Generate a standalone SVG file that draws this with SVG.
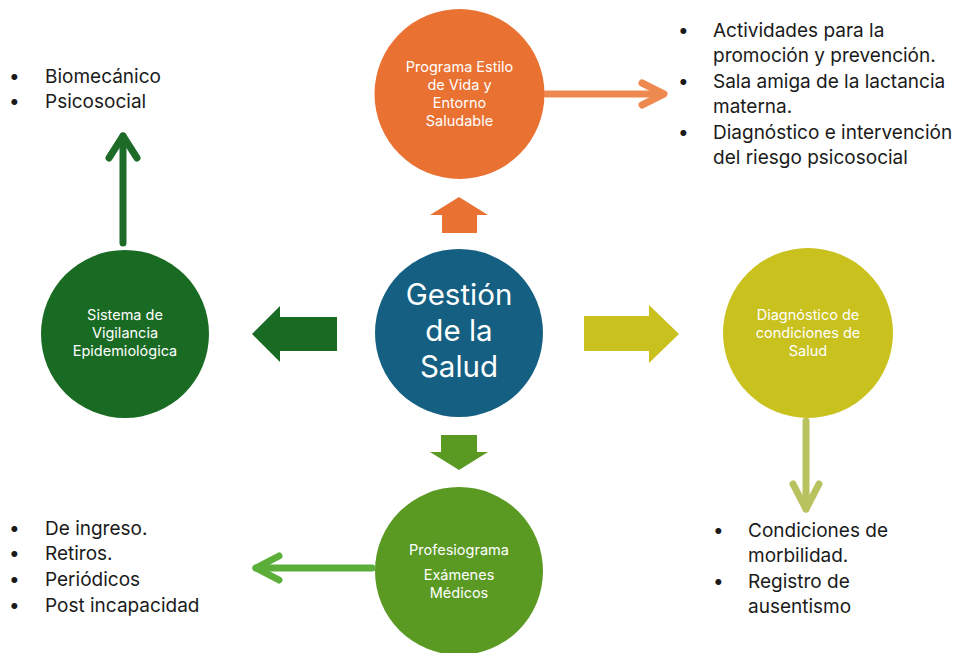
<svg xmlns="http://www.w3.org/2000/svg" width="960" height="653" viewBox="0 0 960 653">
<style>
.ct{font-family:Inter,"Open Sans",sans-serif;fill:#fff;text-anchor:middle}
.sm{font-size:14.5px}
.lst{font-family:Inter,"Open Sans",sans-serif;font-size:19px;fill:#1a1a1a}
.ln{fill:none;stroke-width:7;stroke-linecap:round;stroke-linejoin:round}
</style>
<rect width="960" height="653" fill="#fff"/>
<g id="connectors">
<polygon points="459,197 488,215 477,215 477,233 442,233 442,215 430,215" fill="#E97132"/>
<polygon points="337,317 337,351 280,351 280,362 252,334 280,306 280,317" fill="#196B24"/>
<polygon points="584,316 649,316 649,305 679,334 649,363 649,351 584,351" fill="#C9C11E"/>
<polygon points="441,435 477,435 477,452 488,452 459,470 430,452 441,452" fill="#5A9A23"/>
<g stroke="#1E6B28" class="ln"><path d="M123,243 V136"/><path d="M109,158 L123,136 L137,158"/></g>
<g stroke="#EE8950" class="ln"><path d="M546,94 H663"/><path d="M642,83 L664,94 L642,105"/></g>
<g stroke="#B8C25E" class="ln"><path d="M806,421 V509"/><path d="M793,484 L806,509 L819,484"/></g>
<g stroke="#5BAE3A" class="ln"><path d="M372,568 H256"/><path d="M279,556 L256,568 L279,580"/></g>
</g>
<g id="center">
<circle cx="459" cy="333" r="84" fill="#156082"/>
<text class="ct" font-size="29.5"><tspan x="459" y="305">Gestión</tspan><tspan x="459" y="341">de la</tspan><tspan x="459" y="377">Salud</tspan></text>
</g>
<g id="programa">
<circle cx="459.5" cy="94" r="85" fill="#E97132"/>
<text class="ct sm"><tspan x="459.5" y="72">Programa Estilo</tspan><tspan x="459.5" y="90">de Vida y</tspan><tspan x="459.5" y="108">Entorno</tspan><tspan x="459.5" y="126">Saludable</tspan></text>
</g>
<g id="sistema">
<circle cx="125" cy="334" r="84" fill="#196B24"/>
<text class="ct sm"><tspan x="125" y="320">Sistema de</tspan><tspan x="125" y="338">Vigilancia</tspan><tspan x="125" y="356">Epidemiológica</tspan></text>
</g>
<g id="diagnostico">
<circle cx="808" cy="333" r="85" fill="#C9C11E"/>
<text class="ct sm"><tspan x="808" y="320">Diagnóstico de</tspan><tspan x="808" y="338">condiciones de</tspan><tspan x="808" y="356">Salud</tspan></text>
</g>
<g id="profesiograma">
<circle cx="459" cy="571" r="84" fill="#5A9A23"/>
<text class="ct sm"><tspan x="459" y="555">Profesiograma</tspan><tspan x="459" y="580">Exámenes</tspan><tspan x="459" y="598">Médicos</tspan></text>
</g>
<g id="list-sistema" class="lst">
<text x="9" y="83">•</text><text x="45" y="83">Biomecánico</text>
<text x="9" y="108">•</text><text x="45" y="108">Psicosocial</text>
</g>
<g id="list-programa" class="lst">
<text x="678" y="37">•</text><text x="713" y="37">Actividades para la</text>
<text x="713" y="62">promoción y prevención.</text>
<text x="678" y="88">•</text><text x="713" y="88">Sala amiga de la lactancia</text>
<text x="713" y="113">materna.</text>
<text x="678" y="139">•</text><text x="713" y="139">Diagnóstico e intervención</text>
<text x="713" y="164">del riesgo psicosocial</text>
</g>
<g id="list-profesiograma" class="lst">
<text x="9" y="535">•</text><text x="45" y="535">De ingreso.</text>
<text x="9" y="560">•</text><text x="45" y="560">Retiros.</text>
<text x="9" y="586">•</text><text x="45" y="586">Periódicos</text>
<text x="9" y="612">•</text><text x="45" y="612">Post incapacidad</text>
</g>
<g id="list-diagnostico" class="lst">
<text x="713" y="537">•</text><text x="748" y="537">Condiciones de</text>
<text x="748" y="562">morbilidad.</text>
<text x="713" y="588">•</text><text x="748" y="588">Registro de</text>
<text x="748" y="613">ausentismo</text>
</g>
</svg>
